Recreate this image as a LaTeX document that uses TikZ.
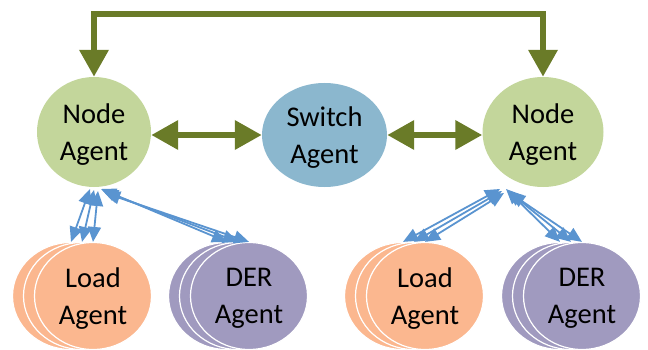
\documentclass[tikz,border=0pt]{standalone}
\usepackage{fontspec}
\setmainfont{Carlito}
\usetikzlibrary{arrows.meta,shapes.geometric}
\definecolor{nodegreen}{HTML}{C3D69B}
\definecolor{switchblue}{HTML}{8BB7CE}
\definecolor{loadorange}{HTML}{FBB78F}
\definecolor{derpurple}{HTML}{A09ABF}
\definecolor{darkolive}{HTML}{6A7B28}
\definecolor{linkblue}{HTML}{5A94D0}
\begin{document}
\begin{tikzpicture}[x=1pt,y=-1pt,
  agent/.style={ellipse, inner sep=0pt, align=center, text depth=0pt,
    font=\fontsize{28.5}{37}\selectfont},
  nodeagent/.style={agent, fill=nodegreen, minimum width=114pt, minimum height=110pt},
  switchagent/.style={agent, fill=switchblue, minimum width=125pt, minimum height=104pt},
  stackel/.style={agent, draw=white, line width=1.2pt, minimum width=117pt, minimum height=107pt},
  loadel/.style={stackel, fill=loadorange},
  derel/.style={stackel, fill=derpurple},
  greenlink/.style={draw=darkolive, line width=6.5pt,
    {Triangle[width=28pt,length=27pt]}-{Triangle[width=28pt,length=27pt]}},
  bluelink/.style={draw=linkblue, line width=1.8pt,
    {Triangle[width=13pt,length=15pt]}-{Triangle[width=13pt,length=15pt]}}
]
\useasboundingbox (0,0) rectangle (648,350);

% main agents
\node[nodeagent] (nodeL) at (94,132) {Node\\Agent};
\node[switchagent] (sw) at (324.5,135) {Switch\\Agent};
\node[nodeagent, minimum width=121pt] (nodeR) at (543,132) {Node\\Agent};

% stacked load / DER agents (left)
\node[loadel] (loadLc) at (71,296) {};
\node[loadel] (loadLb) at (82,296) {};
\node[loadel] (loadLa) at (93,296) {Load\\Agent};
\node[derel] (derLc) at (227,296) {};
\node[derel] (derLb) at (238,296) {};
\node[derel] (derLa) at (249,296) {DER\\Agent};

% stacked load / DER agents (right)
\node[loadel] (loadRc) at (403,296) {};
\node[loadel] (loadRb) at (414,296) {};
\node[loadel] (loadRa) at (425,296) {Load\\Agent};
\node[derel] (derRc) at (560,296) {};
\node[derel] (derRb) at (571,296) {};
\node[derel] (derRa) at (582,296) {DER\\Agent};

% green connectors
\coordinate (topy) at (0,14);
\draw[greenlink] (nodeL.north) -- (nodeL.north |- topy) -- (nodeR.north |- topy) -- (nodeR.north);
\draw[greenlink] (nodeL.east |- sw.west) -- (sw.west);
\draw[greenlink] (sw.east) -- (nodeR.west |- sw.east);

% blue connector start points
\coordinate (lL1) at (90,189);
\coordinate (lL2) at (94,190);
\coordinate (lL3) at (98,191);
\coordinate (dL1) at (101,189);
\coordinate (dL2) at (103,191);
\coordinate (dL3) at (105,193);
\coordinate (lR1) at (500,189);
\coordinate (lR2) at (502,191);
\coordinate (lR3) at (504,193);
\coordinate (dR1) at (506,189);
\coordinate (dR2) at (508,191);
\coordinate (dR3) at (510,193);

\draw[bluelink] (lL1) -- (loadLc.north);
\draw[bluelink] (lL2) -- (loadLb.north);
\draw[bluelink] (lL3) -- (loadLa.north);
\draw[bluelink] (dL1) -- (derLc.north);
\draw[bluelink] (dL2) -- (derLb.north);
\draw[bluelink] (dL3) -- (derLa.north);
\draw[bluelink] (lR1) -- (loadRc.north);
\draw[bluelink] (lR2) -- (loadRb.north);
\draw[bluelink] (lR3) -- (loadRa.north);
\draw[bluelink] (dR1) -- (derRc.north);
\draw[bluelink] (dR2) -- (derRb.north);
\draw[bluelink] (dR3) -- (derRa.north);
\end{tikzpicture}
\end{document}
